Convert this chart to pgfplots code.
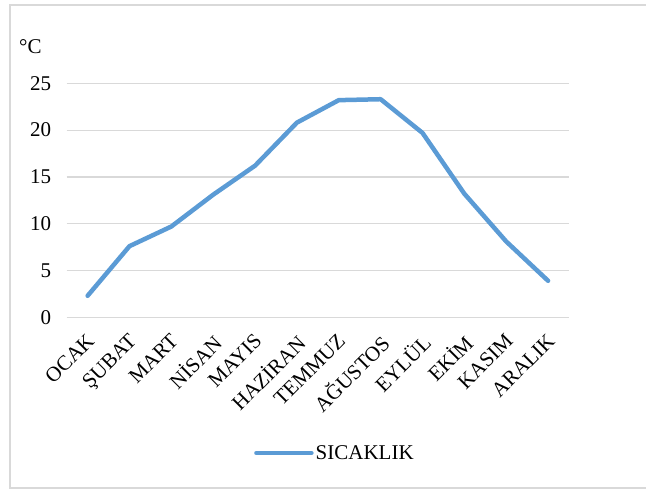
\documentclass[border=0pt]{standalone}
\usepackage{fontspec}
\setmainfont{Liberation Serif}
\usepackage{pgfplots}
\pgfplotsset{compat=1.18}
\definecolor{lineblue}{HTML}{5B9BD5}
\definecolor{gridgray}{HTML}{D9D9D9}
\begin{document}
\begin{tikzpicture}[x=1pt,y=1pt]
\useasboundingbox (0,0) rectangle (646,491);
\draw[gridgray, line width=1.5pt] (660,486) -- (10,486) -- (10,3) -- (660,3);
\node[font=\fontsize{21}{25}\selectfont, anchor=base west, inner sep=0pt] at (19,437) {°C};
\begin{axis}[
  at={(66.7pt,173.7pt)}, anchor=south west,
  scale only axis, width=502.3pt, height=234pt,
  xmin=-0.5, xmax=11.5, ymin=0, ymax=25,
  ytick={0,5,10,15,20,25},
  xtick={0,...,11},
  xticklabels={OCAK,ŞUBAT,MART,NİSAN,MAYIS,HAZİRAN,TEMMUZ,AĞUSTOS,EYLÜL,EKİM,KASIM,ARALIK},
  axis line style={draw=none},
  tick style={draw=none},
  ymajorgrids, grid style={gridgray, line width=1.2pt},
  font=\fontsize{21}{25}\selectfont,
  /pgf/number format/assume math mode=true,
  yticklabel style={anchor=east, xshift=-12pt},
  xticklabel style={anchor=north east, inner sep=0pt, xshift=-2pt, yshift=-15pt, rotate=45},
  legend style={at={(0.534,-0.58)}, anchor=center, draw=none, fill=none, font=\fontsize{21}{25}\selectfont, inner sep=0pt},
  legend image code/.code={\draw[#1, line cap=round] (0pt,0pt) -- (55pt,0pt);},
  clip=false,
]
\addplot[lineblue, line width=4.5pt, line join=round, line cap=round] coordinates {
  (0,2.3) (1,7.6) (2,9.7) (3,13.1) (4,16.2) (5,20.8) (6,23.2) (7,23.3) (8,19.7) (9,13.2) (10,8.1) (11,3.9)
};
\addlegendentry{SICAKLIK}
\end{axis}
\end{tikzpicture}
\end{document}
